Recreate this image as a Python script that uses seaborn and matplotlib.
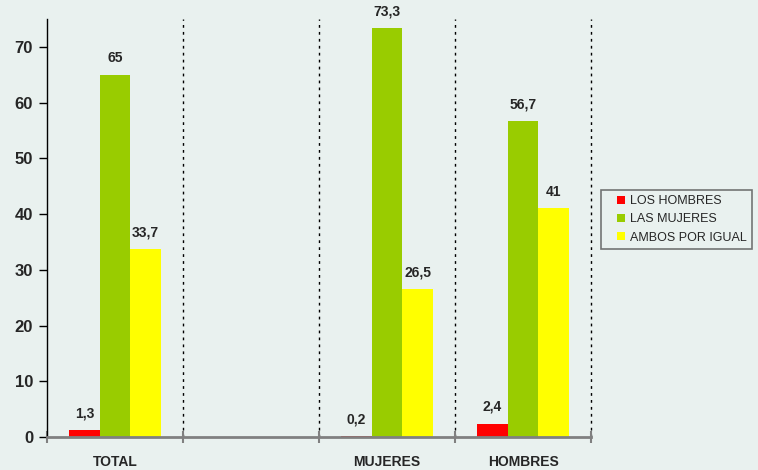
import matplotlib
matplotlib.use("Agg")
import matplotlib.pyplot as plt
from matplotlib.lines import Line2D
import seaborn as sns
import pandas as pd
import numpy as np

categories = ["TOTAL", " ", "MUJERES", "HOMBRES"]
series = ["LOS HOMBRES", "LAS MUJERES", "AMBOS POR IGUAL"]
los_hombres = [1.3, np.nan, 0.2, 2.4]
las_mujeres = [65.0, np.nan, 73.3, 56.7]
ambos = [33.7, np.nan, 26.5, 41.0]
colors = ["#FF0000", "#99CC00", "#FFFF00"]
bg = "#E9F1EF"

rows = []
for s, vals in zip(series, [los_hombres, las_mujeres, ambos]):
    for c, v in zip(categories, vals):
        rows.append({"cat": c, "serie": s, "val": v})
df = pd.DataFrame(rows)

sns.set_theme(style="white")
plt.rcParams["font.family"] = ["Liberation Sans", "DejaVu Sans"]

fig = plt.figure(figsize=(7.58, 4.70), dpi=100)
fig.patch.set_facecolor(bg)
ax = fig.add_axes([0.062, 0.0702, 0.7177, 0.8894])
ax.set_facecolor(bg)

sns.barplot(data=df, x="cat", y="val", hue="serie", order=categories,
            hue_order=series, palette=colors, width=0.675, saturation=1,
            errorbar=None, ax=ax, legend=False, linewidth=0, edgecolor="none")

ax.set_xlim(-0.5, 3.5)
ax.set_ylim(0, 75)
ax.set_yticks(range(0, 80, 10))
ax.set_xlabel("")
ax.set_ylabel("")

def fmt(v):
    s = f"{v:.1f}".replace(".", ",")
    if s.endswith(",0"):
        s = s[:-2]
    return s

for cont in ax.containers:
    labels = []
    for bar in cont:
        h = bar.get_height()
        labels.append("" if np.isnan(h) else fmt(h))
    ax.bar_label(cont, labels=labels, padding=7, fontsize=10, fontweight="bold")

for xb in [0.5, 1.5, 2.5, 3.5]:
    ax.axvline(xb, color="black", linestyle=(0, (2, 3)), linewidth=1.0, zorder=0.5, clip_on=False)

ax.set_xticks([0, 1, 2, 3])
ax.set_xticklabels(categories, fontsize=10, fontweight="bold")
ax.tick_params(axis="x", length=0, pad=13)
ax.set_xticks([-0.5, 0.5, 1.5, 2.5, 3.5], minor=True)
ax.tick_params(axis="x", which="minor", direction="inout", length=8, color="#808080", width=1.5, bottom=True)
ax.tick_params(axis="y", direction="out", length=6, color="black", width=1, left=True, labelsize=12, pad=4)
for lab in ax.get_yticklabels():
    lab.set_fontweight("bold")

for s in ["top", "right"]:
    ax.spines[s].set_visible(False)
ax.spines["left"].set_color("black")
ax.spines["left"].set_linewidth(1.0)
ax.spines["bottom"].set_color("#808080")
ax.spines["bottom"].set_linewidth(2.0)

handles = [Line2D([], [], linestyle="none", marker="s", markersize=5.5,
                  markerfacecolor=c, markeredgewidth=0) for c in colors]
leg = ax.legend(handles, series, loc="upper left", bbox_to_anchor=(1.018, 0.591), fontsize=9,
                frameon=True, fancybox=False, shadow=False, handlelength=2.4,
                handletextpad=-0.5, borderpad=0.42,
                labelspacing=0.5, borderaxespad=0)
leg.get_frame().set_edgecolor("#555555")
leg.get_frame().set_facecolor(bg)
leg.get_frame().set_linewidth(1.2)

fig.savefig("out.png", dpi=100, facecolor=bg)
